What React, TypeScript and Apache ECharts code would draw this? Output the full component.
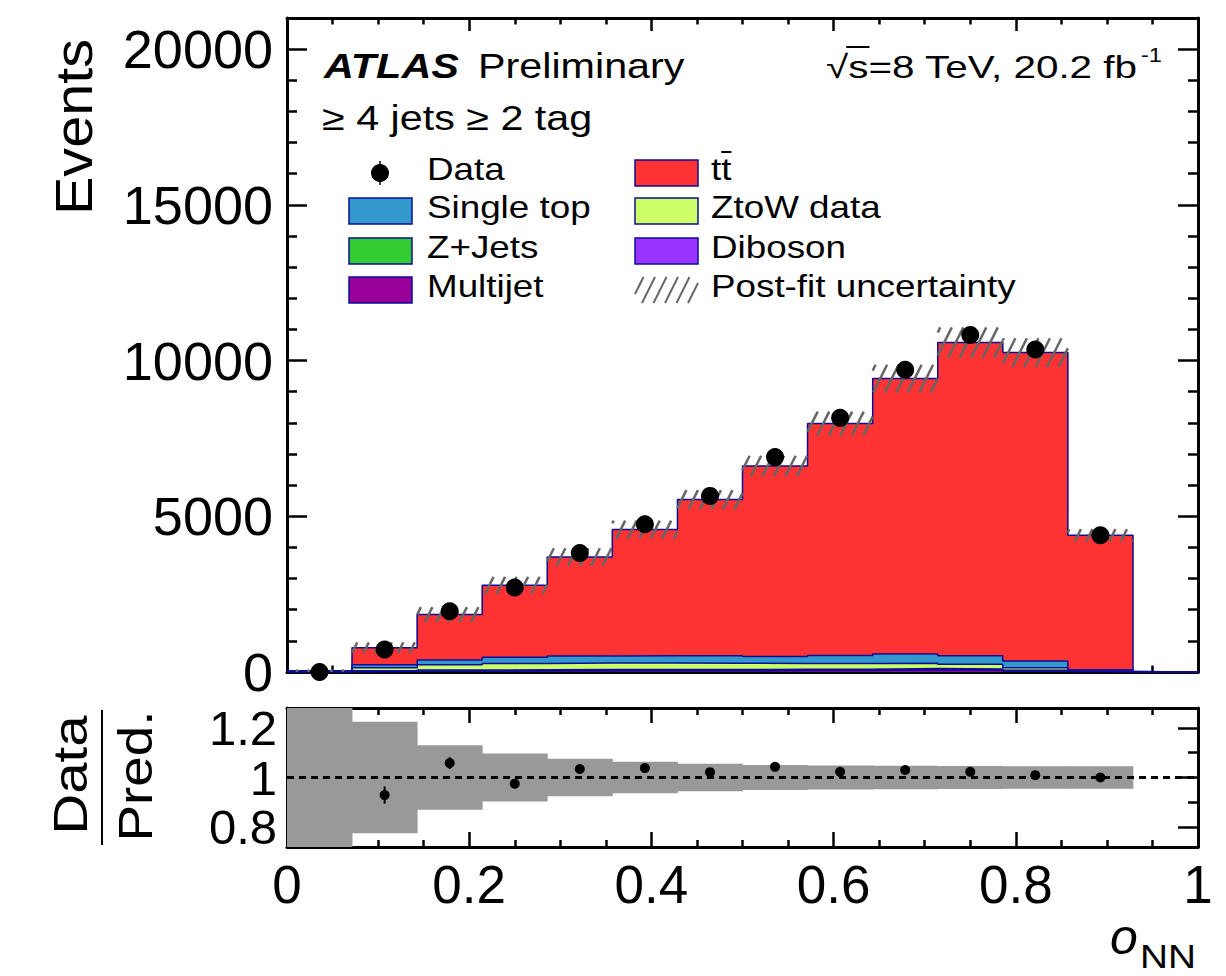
import React, { useEffect, useRef } from "react";
import * as echarts from "echarts";

// ---------- data ----------
const binLow = [0, 0.0714, 0.1429, 0.2143, 0.2857, 0.3571, 0.4286, 0.5, 0.5714, 0.6429, 0.7143, 0.7857, 0.8571];
const binHigh = [0.0714, 0.1429, 0.2143, 0.2857, 0.3571, 0.4286, 0.5, 0.5714, 0.6429, 0.7143, 0.7857, 0.8571, 0.9286];

const dataCounts = [0, 720, 1950, 2715, 3820, 4745, 5655, 6900, 8160, 9705, 10820, 10355, 4390];

const multijet = [5, 20, 30, 35, 40, 40, 40, 45, 50, 70, 60, 30, 10];
const diboson = [1, 5, 8, 10, 10, 10, 10, 10, 10, 10, 10, 8, 3];
const zJets = [2, 15, 25, 30, 30, 30, 30, 30, 30, 30, 25, 15, 5];
const ztowData = [10, 100, 170, 200, 210, 210, 200, 190, 180, 170, 150, 80, 15];
const singleTop = [15, 90, 150, 200, 220, 230, 240, 220, 260, 300, 280, 220, 40];
const ttbar = [7, 545, 1460, 2309, 3183, 4052, 5016, 6120, 7447, 8841, 10053, 9904, 4317];

// relative post-fit uncertainty per bin
const relUnc = [1.0, 0.225, 0.13, 0.097, 0.076, 0.063, 0.055, 0.05, 0.048, 0.047, 0.046, 0.045, 0.045];

const mainYMajor = [0, 5000, 10000, 15000, 20000];
const mainYMinor = [1000, 2000, 3000, 4000, 6000, 7000, 8000, 9000, 11000, 12000, 13000, 14000, 16000, 17000, 18000, 19000];
const ratioYMajor = [0.8, 1, 1.2];
const ratioYMinor = [0.9, 1.1];

const layerNames = ["Multijet", "Diboson", "Z+Jets", "ZtoW data", "Single top", "tt"];
const layerValues = [multijet, diboson, zJets, ztowData, singleTop, ttbar];
const layerColors = ["#990099", "#9933ff", "#33cc33", "#ccff66", "#3399cc", "#ff3333"];

// ---------- style helpers ----------
const FONT = "Liberation Sans";
const OUTLINE = "#0c0c96";
const HATCH = "#666666";

function measure(text: string, size: number, weight = "normal", style = "normal") {
  const c = document.createElement("canvas").getContext("2d")!;
  c.font = `${style} ${weight} ${size}px "${FONT}"`;
  return c.measureText(text).width;
}

function hatchLines(xl: number, xr: number, yt: number, yb: number, style: any) {
  const out: any[] = [];
  const s = 11.5;
  const k = 0.5;
  const nStart = Math.floor((xl + k * yt) / s) - 1;
  const nEnd = Math.ceil((xr + k * yb) / s) + 1;
  for (let n = nStart; n <= nEnd; n++) {
    const c = n * s;
    const lo = Math.max(yt, (c - xr) / k);
    const hi = Math.min(yb, (c - xl) / k);
    if (hi - lo > 0.5) {
      out.push({ type: "line", shape: { x1: c - k * hi, y1: hi, x2: c - k * lo, y2: lo }, style });
    }
  }
  return out;
}

function txt(text: string, x: number, y: number, size: number, opts: any = {}) {
  return {
    type: "text",
    x,
    y,
    z: 100,
    rotation: opts.rotation || 0,
    scaleX: opts.scaleX || 1,
    style: {
      text,
      fontSize: size,
      fontFamily: FONT,
      fontWeight: opts.weight || "normal",
      fontStyle: opts.style || "normal",
      fill: "#000",
      align: opts.align || "left",
      textAlign: opts.align || "left",
      verticalAlign: "middle",
      textVerticalAlign: "middle",
    },
  };
}

export default function App() {
  const ref = useRef<HTMLDivElement>(null);

  useEffect(() => {
    const chart = echarts.init(ref.current!, null, { renderer: "svg" });

    const nb = binLow.length;
    const series: any[] = [];
    let base = binLow.map(() => 0);

    layerValues.forEach((vals, li) => {
      const top = base.map((b, i) => b + vals[i]);
      const color = layerColors[li];
      series.push({
        type: "custom",
        name: layerNames[li],
        xAxisIndex: 0,
        yAxisIndex: 0,
        z: 2,
        silent: true,
        clip: true,
        encode: { x: [0, 1], y: [2, 3] },
        data: binLow.map((lo, i) => [lo, binHigh[i], base[i], top[i]]),
        renderItem: (params: any, api: any) => {
          const p0 = api.coord([api.value(0), api.value(2)]);
          const p1 = api.coord([api.value(1), api.value(3)]);
          return {
            type: "rect",
            shape: { x: p0[0] - 0.4, y: p1[1], width: p1[0] - p0[0] + 0.8, height: p0[1] - p1[1] },
            style: { fill: color, stroke: null },
          };
        },
      });
      const outline: number[][] = binLow.map((lo, i) => [lo, top[i]]);
      outline.push([binHigh[nb - 1], 0]);
      outline.push([1, 0]);
      series.push({
        type: "line",
        xAxisIndex: 0,
        yAxisIndex: 0,
        z: 3,
        silent: true,
        step: "end",
        symbol: "none",
        lineStyle: { color: OUTLINE, width: 1.5 },
        data: outline,
      });
      base = top;
    });

    const pred = base;

    // post-fit uncertainty hatch
    series.push({
      type: "custom",
      xAxisIndex: 0,
      yAxisIndex: 0,
      z: 4,
      silent: true,
      clip: true,
      encode: { x: [0, 1], y: [2, 3] },
      data: binLow.map((lo, i) => [lo, binHigh[i], pred[i] * (1 - relUnc[i]), pred[i] * (1 + relUnc[i])]),
      renderItem: (params: any, api: any) => {
        const p0 = api.coord([api.value(0), api.value(2)]);
        const p1 = api.coord([api.value(1), api.value(3)]);
        return {
          type: "group",
          children: hatchLines(p0[0], p1[0], p1[1], p0[1], { stroke: HATCH, lineWidth: 2.5 }),
        };
      },
    });

    // data points
    series.push({
      type: "scatter",
      xAxisIndex: 0,
      yAxisIndex: 0,
      z: 6,
      silent: true,
      symbol: "circle",
      symbolSize: 18,
      itemStyle: { color: "#000", opacity: 1 },
      data: binLow.map((lo, i) => [(lo + binHigh[i]) / 2, dataCounts[i]]),
    });

    // ratio band
    series.push({
      type: "custom",
      xAxisIndex: 2,
      yAxisIndex: 4,
      z: 2,
      silent: true,
      clip: true,
      encode: { x: [0, 1], y: [2, 3] },
      data: binLow.map((lo, i) => [lo, binHigh[i], 1 - relUnc[i], 1 + relUnc[i]]),
      renderItem: (params: any, api: any) => {
        const p0 = api.coord([api.value(0), api.value(2)]);
        const p1 = api.coord([api.value(1), api.value(3)]);
        return {
          type: "rect",
          shape: { x: p0[0] - 0.4, y: p1[1], width: p1[0] - p0[0] + 0.8, height: p0[1] - p1[1] },
          style: { fill: "#999999" },
        };
      },
    });

    // dotted line at 1
    series.push({
      type: "line",
      xAxisIndex: 2,
      yAxisIndex: 4,
      z: 3,
      silent: true,
      symbol: "none",
      lineStyle: { color: "#000", width: 3, type: [7, 5] },
      data: [[0, 1], [1, 1]],
    });

    const ratioPts = binLow
      .map((lo, i) => ({ x: (lo + binHigh[i]) / 2, r: dataCounts[i] / pred[i], e: Math.sqrt(dataCounts[i]) / pred[i], d: dataCounts[i] }))
      .filter((p) => p.d > 0);

    series.push({
      type: "custom",
      xAxisIndex: 2,
      yAxisIndex: 4,
      z: 5,
      silent: true,
      clip: true,
      encode: { x: 0, y: 1 },
      data: ratioPts.map((p) => [p.x, p.r, p.e]),
      renderItem: (params: any, api: any) => {
        const a = api.coord([api.value(0), api.value(1) - api.value(2)]);
        const b = api.coord([api.value(0), api.value(1) + api.value(2)]);
        return { type: "line", shape: { x1: a[0], y1: a[1], x2: b[0], y2: b[1] }, style: { stroke: "#000", lineWidth: 2 } };
      },
    });

    series.push({
      type: "scatter",
      xAxisIndex: 2,
      yAxisIndex: 4,
      z: 6,
      silent: true,
      symbol: "circle",
      symbolSize: 10,
      itemStyle: { color: "#000", opacity: 1 },
      data: ratioPts.map((p) => [p.x, p.r]),
    });

    const tickStyle = { color: "#000", width: 2.5 };
    const lineStyle = { color: "#000", width: 3 };

    const xAxis = (gridIndex: number, position: string, showLabel: boolean, major: number, minor: number) => ({
      type: "value",
      gridIndex,
      position,
      min: 0,
      max: 1,
      interval: 0.2,
      axisLine: { show: true, onZero: false, lineStyle },
      axisTick: { show: true, inside: true, length: major, lineStyle: tickStyle },
      minorTick: { show: true, splitNumber: 4, length: minor, lineStyle: tickStyle },
      axisLabel: { show: showLabel, fontSize: 53, fontFamily: FONT, color: "#000", margin: 11, hideOverlap: false, showMinLabel: true, showMaxLabel: true },
      splitLine: { show: false },
      minorSplitLine: { show: false },
    });

    const yAxis = (gridIndex: number, position: string, min: number, max: number, ticks: number[], len: number, labels: boolean, showLine: boolean, labelSize: number, margin: number, showTicks = true, lineHeight?: number) => ({
      type: "value",
      gridIndex,
      position,
      min,
      max,
      axisLine: { show: showLine, onZero: false, lineStyle },
      axisTick: { show: showTicks, inside: true, length: len, lineStyle: tickStyle, customValues: ticks },
      axisLabel: {
        show: labels,
        customValues: ticks,
        fontSize: labelSize,
        lineHeight: lineHeight || labelSize,
        fontFamily: FONT,
        color: "#000",
        margin,
        hideOverlap: false,
        showMinLabel: true,
        showMaxLabel: true,
        formatter: (v: number) => String(Math.round(v * 100) / 100),
      },
      splitLine: { show: false },
    });

    // legend graphic
    const g: any[] = [];
    const col1Box = 349, col2Box = 635, boxW = 63, boxH = 26;
    const rowBoxTop = [160, 198, 238, 277];
    const rowText = [168.5, 207, 246.5, 285.5];
    const legFont = 32, legScale = 1.15;
    const box = (x: number, y: number, color: string) => ({
      type: "rect", z: 100, shape: { x, y, width: boxW, height: boxH }, style: { fill: color, stroke: OUTLINE, lineWidth: 1.5 },
    });
    // col1
    g.push({ type: "line", z: 100, shape: { x1: 380, y1: 161, x2: 380, y2: 185 }, style: { stroke: "#000", lineWidth: 1.5 } });
    g.push({ type: "circle", z: 101, shape: { cx: 380, cy: 173, r: 9 }, style: { fill: "#000" } });
    g.push(txt("Data", 427, rowText[0], legFont, { scaleX: legScale }));
    g.push(box(col1Box, rowBoxTop[1], layerColors[4]));
    g.push(txt(layerNames[4], 427, rowText[1], legFont, { scaleX: legScale }));
    g.push(box(col1Box, rowBoxTop[2], layerColors[2]));
    g.push(txt(layerNames[2], 427, rowText[2], legFont, { scaleX: legScale }));
    g.push(box(col1Box, rowBoxTop[3], layerColors[0]));
    g.push(txt(layerNames[0], 427, rowText[3], legFont, { scaleX: legScale }));
    // col2
    g.push(box(col2Box, rowBoxTop[0], layerColors[5]));
    g.push(txt(layerNames[5], 711, rowText[0], legFont, { scaleX: legScale }));
    const tW = measure("t", legFont) * legScale;
    g.push({ type: "line", z: 100, shape: { x1: 711 + tW, y1: 152, x2: 711 + 2 * tW, y2: 152 }, style: { stroke: "#000", lineWidth: 2 } });
    g.push(box(col2Box, rowBoxTop[1], layerColors[3]));
    g.push(txt(layerNames[3], 711, rowText[1], legFont, { scaleX: legScale }));
    g.push(box(col2Box, rowBoxTop[2], layerColors[1]));
    g.push(txt(layerNames[1], 711, rowText[2], legFont, { scaleX: legScale }));
    hatchLines(col2Box, col2Box + boxW, rowBoxTop[3], rowBoxTop[3] + boxH, { stroke: HATCH, lineWidth: 2 }).forEach((l) => g.push({ ...l, z: 100 }));
    g.push(txt("Post-fit uncertainty", 711, rowText[3], legFont, { scaleX: legScale }));

    // annotations
    g.push(txt("ATLAS", 324, 65.5, 36, { weight: "bold", style: "italic", scaleX: 1.15 }));
    g.push(txt("Preliminary", 478, 65.5, 35, { scaleX: 1.18 }));

    const lumiText = "√s=8 TeV, 20.2 fb";
    const lumiSize = 32;
    const lumiLeft = 826, lumiRight = 1138;
    const lumiScale = (lumiRight - lumiLeft) / measure(lumiText, lumiSize);
    const sqrtW = measure("√", lumiSize) * lumiScale;
    const sW = measure("s", lumiSize) * lumiScale;
    g.push(txt(lumiText, lumiLeft, 67, lumiSize, { scaleX: lumiScale }));
    g.push({ type: "line", z: 100, shape: { x1: lumiLeft + sqrtW - 2, y1: 47, x2: lumiLeft + sqrtW + sW + 1, y2: 47 }, style: { stroke: "#000", lineWidth: 2 } });
    g.push(txt("-1", lumiRight + 3, 55, 20, { scaleX: 1.18 }));
    g.push(txt("≥ 4 jets ≥ 2 tag", 322, 117.5, 35, { scaleX: 1.18 }));

    // axis titles
    g.push(txt("Events", 75, 127, 51, { align: "center", rotation: Math.PI / 2, scaleX: 1.13 }));
    g.push(txt("Data", 70, 775, 49, { align: "center", rotation: Math.PI / 2, scaleX: 1.15 }));
    g.push({ type: "line", z: 100, shape: { x1: 102, y1: 710, x2: 102, y2: 845 }, style: { stroke: "#000", lineWidth: 2 } });
    g.push(txt("Pred.", 135, 776, 49, { align: "center", rotation: Math.PI / 2, scaleX: 1.12 }));
    g.push(txt("o", 1110, 937, 50, { style: "italic" }));
    g.push(txt("NN", 1140, 956, 34, { scaleX: 1.14 }));

    // ratio y labels: one axis per label so no overlap logic can drop any
    const ratioLabelAxes = ratioYMajor.map((v) => yAxis(1, "left", 0.72, 1.28, [v], 0, true, false, 49, 10, false, 38));

    const option: any = {
      animation: false,
      backgroundColor: "#ffffff",
      textStyle: { fontFamily: FONT },
      grid: [
        { left: 287, top: 18, width: 911, height: 654 },
        { left: 287, top: 708, width: 911, height: 139 },
      ],
      xAxis: [
        xAxis(0, "bottom", false, 13, 6.5),
        xAxis(0, "top", false, 13, 6.5),
        xAxis(1, "bottom", true, 15, 7),
        xAxis(1, "top", false, 15, 7),
      ],
      yAxis: [
        yAxis(0, "left", 0, 21000, mainYMajor, 20, true, true, 54, 14),
        yAxis(0, "left", 0, 21000, mainYMinor, 10, false, false, 54, 14),
        yAxis(0, "right", 0, 21000, mainYMajor, 20, false, true, 54, 14),
        yAxis(0, "right", 0, 21000, mainYMinor, 10, false, false, 54, 14),
        yAxis(1, "left", 0.72, 1.28, ratioYMajor, 20, false, true, 50, 10),
        yAxis(1, "left", 0.72, 1.28, ratioYMinor, 10, false, false, 50, 10),
        yAxis(1, "right", 0.72, 1.28, ratioYMajor, 20, false, true, 50, 10),
        yAxis(1, "right", 0.72, 1.28, ratioYMinor, 10, false, false, 50, 10),
        ...ratioLabelAxes,
      ],
      series,
      graphic: g,
    };

    chart.setOption(option);
    return () => chart.dispose();
  }, []);

  return (
    <div
      ref={ref}
      style={{ position: "absolute", left: 0, top: 0, width: 1226, height: 976, background: "#fff" }}
    />
  );
}
